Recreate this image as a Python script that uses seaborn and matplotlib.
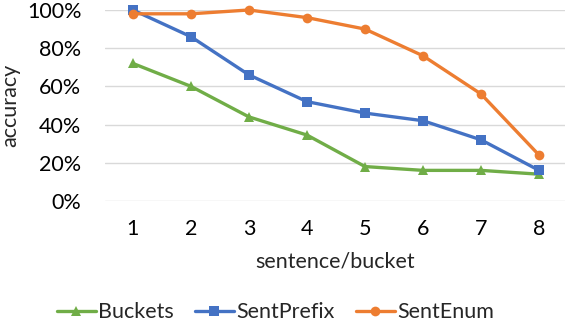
import numpy as np
import pandas as pd
import matplotlib.pyplot as plt
import seaborn as sns
from matplotlib.ticker import PercentFormatter

buckets = [1, 2, 3, 4, 5, 6, 7, 8]
acc_buckets = [0.72, 0.60, 0.44, 0.345, 0.18, 0.16, 0.16, 0.14]
acc_sentprefix = [1.00, 0.86, 0.66, 0.52, 0.46, 0.42, 0.32, 0.16]
acc_sentenum = [0.98, 0.98, 1.00, 0.96, 0.90, 0.76, 0.56, 0.24]
series_names = ["Buckets", "SentPrefix", "SentEnum"]

df = pd.DataFrame({
    "bucket": buckets * 3,
    "accuracy": acc_buckets + acc_sentprefix + acc_sentenum,
    "method": np.repeat(series_names, len(buckets)),
})

sns.set_theme(style="white")
plt.rcParams['font.family'] = ['Lato', 'DejaVu Sans']

fig = plt.figure(figsize=(5.68, 3.22), dpi=100)
ax = fig.add_axes([0.185, 0.376, 0.81, 0.593])

palette = {"Buckets": "#70AD47", "SentPrefix": "#4472C4", "SentEnum": "#ED7D31"}
markers = {"Buckets": "^", "SentPrefix": "s", "SentEnum": "o"}

sns.lineplot(data=df, x="bucket", y="accuracy", hue="method", style="method",
             hue_order=series_names, style_order=series_names,
             palette=palette, markers=markers, dashes=False, lw=2.4,
             markersize=7, markeredgewidth=0, ax=ax, clip_on=False, zorder=3)

fs = 15.5
ax.set_xlim(0.52, 8.45)
ax.set_ylim(0, 1)
ax.set_yticks(np.arange(0, 1.01, 0.2))
ax.set_xticks(buckets)
ax.yaxis.set_major_formatter(PercentFormatter(1.0, decimals=0))
ax.yaxis.grid(True, color="#D9D9D9", lw=1)
for s in ax.spines.values():
    s.set_visible(False)
ax.tick_params(axis="both", labelsize=fs, colors="black", length=0)
ax.tick_params(axis="x", pad=13)
ax.tick_params(axis="y", pad=17)
ax.set_xlabel("sentence/bucket", fontsize=fs, labelpad=9)
ax.set_ylabel("accuracy", fontsize=fs, labelpad=5)

ax.legend(loc="upper center", bbox_to_anchor=(0.37, -0.43), ncol=3, frameon=False,
          fontsize=fs, handlelength=1.8, columnspacing=1.0, handletextpad=0.1)

fig.savefig("out.png", dpi=100)
